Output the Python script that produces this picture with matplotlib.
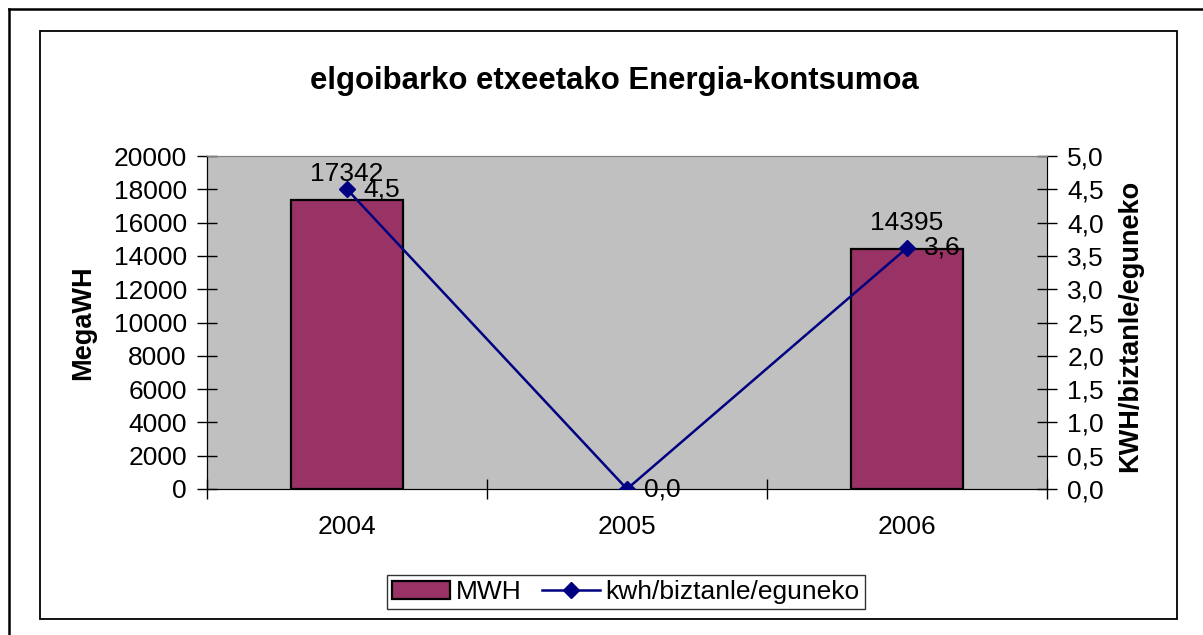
import matplotlib
matplotlib.use("Agg")
import matplotlib.pyplot as plt
from matplotlib.lines import Line2D
from matplotlib.patches import Patch

# chart data
years = ["2004", "2005", "2006"]
mwh = [17342, 0, 14395]
kwh_per_person = [4.5, 0.0, 3.62]
kwh_labels = ["4,5", "0,0", "3,6"]

bar_color = "#993366"
line_color = "#000080"
font = "Liberation Sans"
fs = 19

plt.rcParams["font.family"] = [font, "DejaVu Sans"]

fig = plt.figure(figsize=(12.03, 6.35), dpi=100)

# outer and inner frames
fig.add_artist(Line2D([9 / 1203, 1], [1 - 9 / 635, 1 - 9 / 635], color="black", lw=1.8))
fig.add_artist(Line2D([9 / 1203, 9 / 1203], [0, 1 - 9 / 635], color="black", lw=1.8))
fig.add_artist(plt.Rectangle((40 / 1203, 1 - 619 / 635), (1177 - 40) / 1203, (619 - 31) / 635,
                             fill=False, edgecolor="black", lw=1.3, transform=fig.transFigure))

ax = fig.add_axes([207 / 1203, 1 - 489 / 635, 840 / 1203, 333 / 635])
ax.set_facecolor("#C0C0C0")
x = list(range(len(years)))
bars = ax.bar(x, mwh, width=0.4, color=bar_color, edgecolor="black", linewidth=1.6, zorder=2)
for b, v in zip(bars, mwh):
    if v == 0:
        b.set_linewidth(0)
ax.set_xlim(-0.5, 2.5)
ax.set_ylim(0, 20000)
ax.set_yticks(range(0, 20001, 2000))
ax.set_xticks([-0.5, 0.5, 1.5, 2.5])
ax.set_xticklabels([])
ax.set_xticks(x, minor=True)
ax.set_xticklabels(years, minor=True)
ax.tick_params(axis="x", which="major", direction="inout", length=15, width=1)
ax.tick_params(axis="x", which="minor", length=0, pad=19, labelsize=fs)
ax.tick_params(axis="y", direction="inout", length=15, width=1, pad=7, labelsize=fs)
ax.set_ylabel("MegaWH", fontsize=19.5, fontweight="bold")
ax.yaxis.set_label_coords(-0.132, 0.5)
for side in ["top", "right"]:
    ax.spines[side].set_color("#808080")
ax.spines["left"].set_color("black")
ax.spines["bottom"].set_color("black")

for xi, v in zip(x, mwh):
    if v > 0:
        ax.annotate(str(v), (xi, v), xytext=(0, 19), textcoords="offset points",
                    ha="center", va="center", fontsize=fs)

ax2 = ax.twinx()
ax2.plot(x, kwh_per_person, color=line_color, lw=1.8, marker="D", markersize=8, zorder=3)
ax2.set_ylim(0, 5)
ax2.set_yticks([i * 0.5 for i in range(11)])
ax2.set_yticklabels([f"{i * 0.5:.1f}".replace(".", ",") for i in range(11)])
ax2.tick_params(axis="y", direction="inout", length=15, width=1, pad=7, labelsize=fs)
ax2.set_ylabel("KWH/biztanle/eguneko", fontsize=19.5, fontweight="bold", rotation=90)
ax2.yaxis.set_label_coords(1.083, 0.49)
ax2.spines["right"].set_color("black")
ax2.spines["top"].set_color("#808080")

for xi, v, lab in zip(x, kwh_per_person, kwh_labels):
    ax2.annotate(lab, (xi, v), xytext=(12, 0), textcoords="offset points",
                 ha="left", va="center", fontsize=fs)

fig.text(614 / 1203, 1 - 81 / 635, "elgoibarko etxeetako Energia-kontsumoa",
         ha="center", va="center", fontsize=22.4, fontweight="bold")

handles = [Patch(facecolor=bar_color, edgecolor="black", linewidth=1.6),
           Line2D([], [], color=line_color, lw=1.8, marker="D", markersize=8)]
leg = fig.legend(handles, ["MWH", "kwh/biztanle/eguneko"], loc="center",
                 bbox_to_anchor=(626 / 1203, 1 - 592 / 635), ncol=2, fontsize=fs,
                 frameon=True, fancybox=False, edgecolor="black", borderpad=0.2,
                 handlelength=2.2, handletextpad=0.2, columnspacing=0.8, borderaxespad=0)
leg.get_frame().set_linewidth(1)

fig.savefig("out.png", dpi=100)
